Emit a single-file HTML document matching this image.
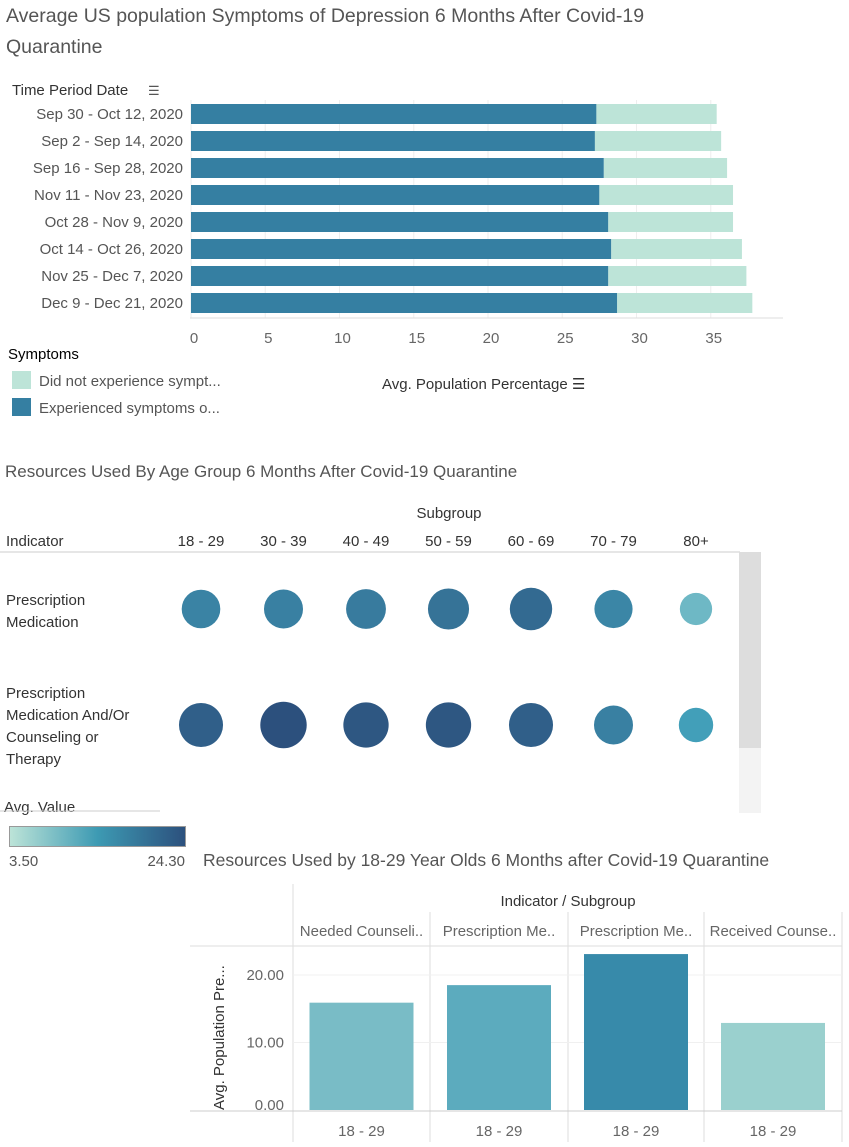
<!DOCTYPE html>
<html><head><meta charset="utf-8"><style>
body{margin:0;width:849px;height:1142px;background:#fff;font-family:"Liberation Sans Narrow","Liberation Sans",sans-serif;color:#333;overflow:hidden}
svg text{font-family:"Liberation Sans Narrow","Liberation Sans",sans-serif}
</style></head><body>
<svg id="s" width="849" height="1142">
<text x="6" y="22" font-size="19.5" fill="#555">Average US population Symptoms of Depression 6 Months After Covid-19</text>
<text x="6" y="53" font-size="19.5" fill="#555">Quarantine</text>
<text x="12" y="95" font-size="15" fill="#333">Time Period Date</text>
<text x="148" y="95" font-size="13" fill="#555">☰</text>
<g id="c1"></g>
<text x="8" y="359" font-size="15">Symptoms</text>
<rect x="12" y="371" width="19" height="18" fill="#bde4d8"/>
<text x="39" y="386" font-size="15" fill="#555">Did not experience sympt...</text>
<rect x="12" y="398" width="19" height="18" fill="#357fa2"/>
<text x="39" y="413" font-size="15" fill="#555">Experienced symptoms o...</text>
<text x="382" y="389" font-size="15" fill="#333">Avg. Population Percentage ☰</text>

<text x="5" y="477" font-size="17" fill="#555">Resources Used By Age Group 6 Months After Covid-19 Quarantine</text>
<text x="449" y="518" font-size="15" text-anchor="middle" fill="#333">Subgroup</text>
<text x="6" y="546" font-size="15" fill="#333">Indicator</text>
<line x1="0" y1="552" x2="740" y2="552" stroke="#ccc"/>
<rect x="739" y="552" width="22" height="196" fill="#ddd"/>
<rect x="739" y="748" width="22" height="65" fill="#f3f3f3"/>
<text x="6" y="605" font-size="15" fill="#333">Prescription</text>
<text x="6" y="627" font-size="15" fill="#333">Medication</text>
<text x="6" y="698" font-size="15" fill="#333">Prescription</text>
<text x="6" y="720" font-size="15" fill="#333">Medication And/Or</text>
<text x="6" y="742" font-size="15" fill="#333">Counseling or</text>
<text x="6" y="764" font-size="15" fill="#333">Therapy</text>
<g id="c2"></g>
<text x="4" y="812" font-size="15" fill="#333">Avg. Value</text>
<line x1="0" y1="811" x2="160" y2="811" stroke="#ccc"/>
<defs><linearGradient id="g"><stop offset="0" stop-color="#bde4d8"/><stop offset="0.5" stop-color="#3d9ab3"/><stop offset="1" stop-color="#2c507d"/></linearGradient></defs>
<rect x="9.5" y="826.5" width="176" height="20" fill="url(#g)" stroke="#999"/>
<text x="9" y="866" font-size="15" fill="#555">3.50</text>
<text x="185" y="866" font-size="15" fill="#555" text-anchor="end">24.30</text>

<text x="203" y="866" font-size="17.5" fill="#555">Resources Used by 18-29 Year Olds 6 Months after Covid-19 Quarantine</text>
<text x="568" y="906" font-size="15" text-anchor="middle" fill="#333">Indicator / Subgroup</text>
<g id="c3"></g>
<text transform="translate(224,1110) rotate(-90)" font-size="15" fill="#333">Avg. Population Pre...</text>
</svg>
<script>
const NS="http://www.w3.org/2000/svg";
function mk(p,t,a,txt){const e=document.createElementNS(NS,t);for(const k in a)e.setAttribute(k,a[k]);if(txt!=null)e.textContent=txt;p.appendChild(e);return e;}

// Chart 1
const periods=["Sep 30 - Oct 12, 2020","Sep 2 - Sep 14, 2020","Sep 16 - Sep 28, 2020","Nov 11 - Nov 23, 2020","Oct 28 - Nov 9, 2020","Oct 14 - Oct 26, 2020","Nov 25 - Dec 7, 2020","Dec 9 - Dec 21, 2020"];
const experienced=[27.3,27.2,27.8,27.5,28.1,28.3,28.1,28.7];
const notExperienced=[8.1,8.5,8.3,9.0,8.4,8.8,9.3,9.1];
const xTicks=[0,5,10,15,20,25,30,35];
// Chart 2
const subgroups=["18 - 29","30 - 39","40 - 49","50 - 59","60 - 69","70 - 79","80+"];
const prescription=[15,15.5,16.5,18,19.5,14.5,7.5];
const prescriptionOrCounsel=[21.5,24.3,23,23,21.5,15.5,10];
// Chart 3
const indicators3=["Needed Counseli..","Prescription Me..","Prescription Me..","Received Counse.."];
const values3=[15.9,18.5,23.1,12.9];
const yTicks3=[0,10,20];

const c1=document.getElementById('c1');
const x1=v=>191+v*14.85;
xTicks.forEach(t=>{
 const l=mk(c1,'line',{x1:x1(t),y1:100,x2:x1(t),y2:318,stroke:'#eee'});
 
 
 const tx=mk(c1,'text',{x:x1(t)+3,y:343,'font-size':15,fill:'#666','text-anchor':'middle'},t);
 
 
});
const ax=mk(c1,'line',{x1:190,y1:318,x2:783,y2:318,stroke:'#ddd'});


periods.forEach((p,i)=>{
 const y=104+i*27;
 const lb=mk(c1,'text',{x:183,y:y+15,'font-size':15,fill:'#555','text-anchor':'end'},p);
 
 
 const b=mk(c1,'rect',{x:x1(0),y:y,width:x1(experienced[i])-x1(0),height:20,fill:'#357fa2'});
 
 
 const b2=mk(c1,'rect',{x:x1(experienced[i]),y:y,width:x1(experienced[i]+notExperienced[i])-x1(experienced[i]),height:20,fill:'#bde4d8'});
 
 
});

function lerp(a,b,t){return a.map((v,i)=>Math.round(v+(b[i]-v)*t));}
function col(v){const t=Math.max(0,Math.min(1,(v-3.5)/(24.3-3.5)));const A=[189,228,216],B=[66,160,186],C=[44,80,125];const m=0.3;const c=t<m?lerp(A,B,t/m):lerp(B,C,(t-m)/(1-m));return `rgb(${c})`;}
const c2=document.getElementById('c2');
const cx2=i=>201+i*82.5;
const r2=v=>13+v*0.42;
subgroups.forEach((s,i)=>{
 const h=mk(c2,'text',{x:cx2(i),y:546,'font-size':15,fill:'#333','text-anchor':'middle'},s);
 
 
 const a=mk(c2,'circle',{cx:cx2(i),cy:609,r:r2(prescription[i]),fill:col(prescription[i])});
 
 
 const b=mk(c2,'circle',{cx:cx2(i),cy:725,r:r2(prescriptionOrCounsel[i]),fill:col(prescriptionOrCounsel[i])});
 
 
});

// Chart 3
const c3=document.getElementById('c3');
const y3=v=>1110-v*6.75;
const colX=[293,430,568,704,842];
const colors3=['#79bcc6','#5cabbe','#378aaa','#9ad0ce'];
[[293,884,293,1142],[430,912,430,1142],[568,912,568,1142],[704,912,704,1142],[842,912,842,1142]].forEach(l=>{
 const e=mk(c3,'line',{x1:l[0],y1:l[1],x2:l[2],y2:l[3],stroke:'#ddd'});
 
 
});
const hl=mk(c3,'line',{x1:190,y1:946,x2:842,y2:946,stroke:'#ddd'});


const bl=mk(c3,'line',{x1:190,y1:1111,x2:842,y2:1111,stroke:'#ccc'});


yTicks3.forEach(t=>{
 if(t>0){const g=mk(c3,'line',{x1:293,y1:y3(t),x2:842,y2:y3(t),stroke:'#f0f0f0'});
 
 }
 const tx=mk(c3,'text',{x:284,y:t===0?y3(t):y3(t)+5,'font-size':15,fill:'#666','text-anchor':'end'},t.toFixed(2));
 
 
});
indicators3.forEach((n,i)=>{
 const mid=(colX[i]+colX[i+1])/2;
 const h=mk(c3,'text',{x:mid,y:936,'font-size':15,fill:'#666','text-anchor':'middle'},n);
 
 
 const b=mk(c3,'rect',{x:mid-52,y:y3(values3[i]),width:104,height:y3(0)-y3(values3[i]),fill:colors3[i]});
 
 
 const f=mk(c3,'text',{x:mid,y:1136,'font-size':15,fill:'#666','text-anchor':'middle'},'18 - 29');
 
 
});
</script>
</body></html>
